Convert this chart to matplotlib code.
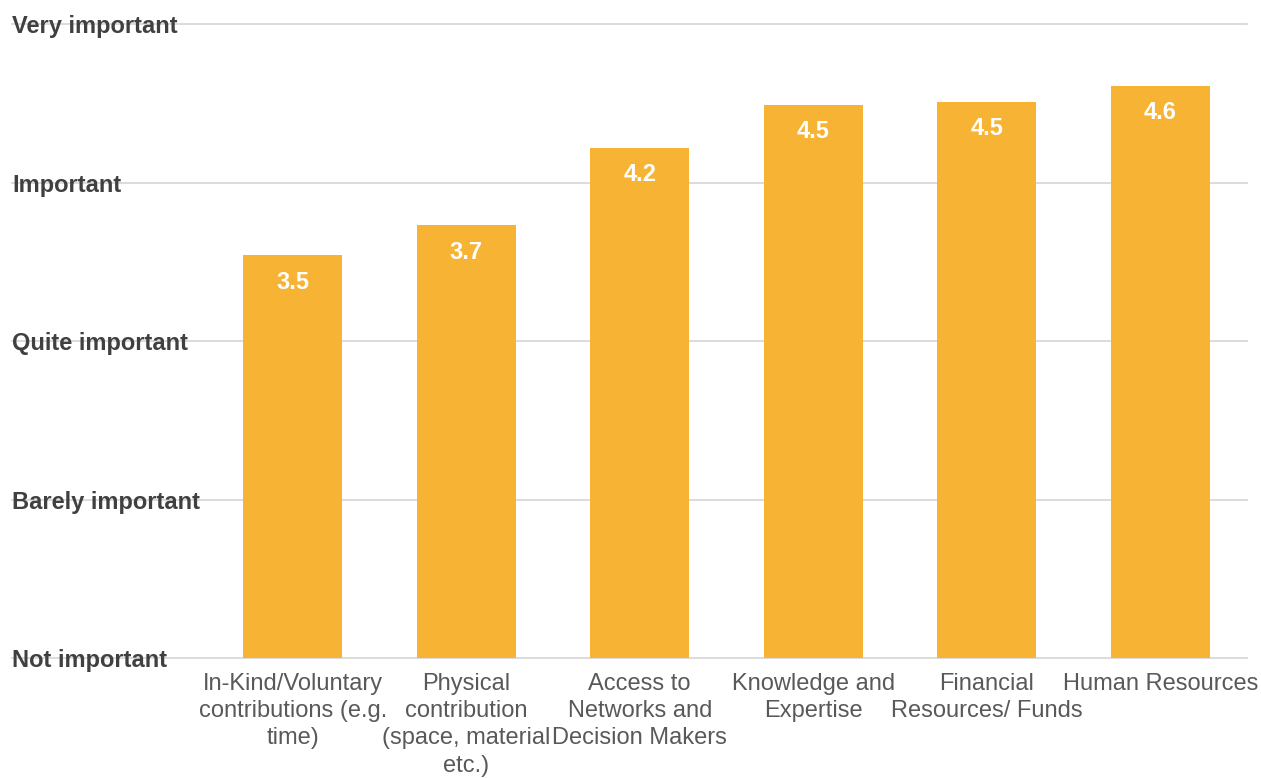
import matplotlib
matplotlib.use("Agg")
import matplotlib.pyplot as plt

plt.rcParams["font.family"] = ["Liberation Sans", "DejaVu Sans"]

categories = [
    "In-Kind/Voluntary\ncontributions (e.g.\ntime)",
    "Physical\ncontribution\n(space, material\netc.)",
    "Access to\nNetworks and\nDecision Makers",
    "Knowledge and\nExpertise",
    "Financial\nResources/ Funds",
    "Human Resources",
]
values = [3.54, 3.73, 4.22, 4.49, 4.51, 4.61]
level_values = [1, 2, 3, 4, 5]
level_labels = ["Not important", "Barely important", "Quite important", "Important", "Very important"]

bar_color = "#F7B334"
grid_color = "#D9D9D9"

fig = plt.figure(figsize=(12.61, 7.78), dpi=100)
ax = fig.add_axes([206 / 1261, 1 - 658 / 778, 1041 / 1261, 634 / 778])

x = list(range(len(categories)))
bars = ax.bar(x, values, width=0.57, color=bar_color, zorder=2)

ax.set_xlim(-0.5, len(categories) - 0.5)
ax.set_ylim(1, 5)

# grid lines run under the level labels on the left
for lv, lab in zip(level_values, level_labels):
    ax.axhline(lv, xmin=-194 / 1041, xmax=1, color=grid_color, lw=1.3, clip_on=False, zorder=1)
    ax.annotate(lab, xy=(12 / 1261, lv), xycoords=("figure fraction", "data"),
                xytext=(0, -9), textcoords="offset pixels",
                ha="left", va="baseline", fontsize=17, fontweight="bold", color="#404040")

for b, v in zip(bars, values):
    ax.annotate(f"{v:.1f}", xy=(b.get_x() + b.get_width() / 2, v), xytext=(0, -27),
                textcoords="offset pixels", ha="center", va="center",
                fontsize=17, fontweight="bold", color="white")

ax.set_xticks(x)
ax.set_xticklabels(categories, fontsize=17, color="#595959", linespacing=1.3)
ax.tick_params(axis="x", length=0, pad=11)
ax.set_yticks([])
for s in ax.spines.values():
    s.set_visible(False)

fig.savefig("out.png", dpi=100)
